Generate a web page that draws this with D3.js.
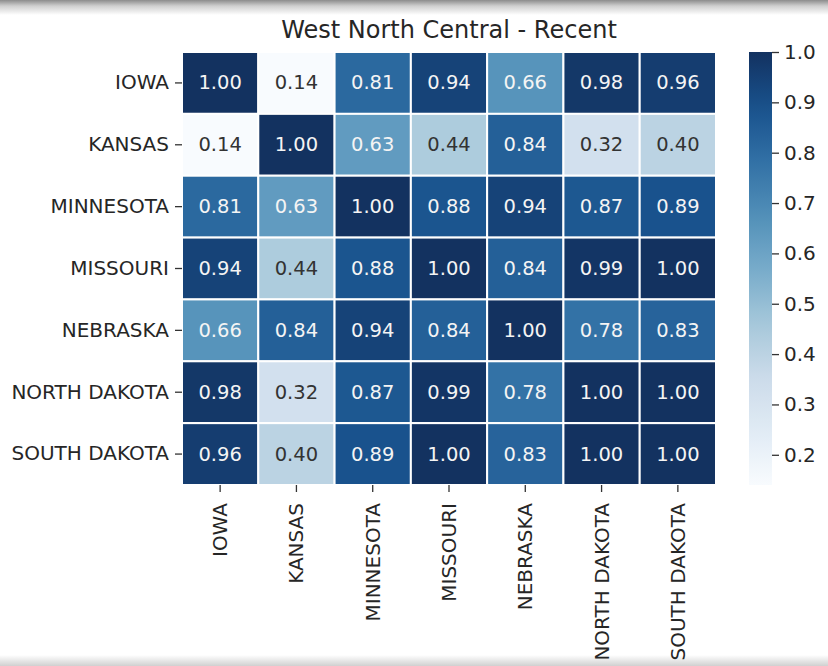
<!DOCTYPE html>
<html><head><meta charset="utf-8">
<script src="https://cdn.jsdelivr.net/npm/d3@7"></script>
<style>
html,body{margin:0;padding:0;background:#fff;}
svg{display:block;font-family:"DejaVu Sans",sans-serif;}
</style></head>
<body>
<script>
const states = ["IOWA","KANSAS","MINNESOTA","MISSOURI","NEBRASKA","NORTH DAKOTA","SOUTH DAKOTA"];
const rowIOWA        = [1.00,0.14,0.81,0.94,0.66,0.98,0.96];
const rowKANSAS      = [0.14,1.00,0.63,0.44,0.84,0.32,0.40];
const rowMINNESOTA   = [0.81,0.63,1.00,0.88,0.94,0.87,0.89];
const rowMISSOURI    = [0.94,0.44,0.88,1.00,0.84,0.99,1.00];
const rowNEBRASKA    = [0.66,0.84,0.94,0.84,1.00,0.78,0.83];
const rowNORTHDAKOTA = [0.98,0.32,0.87,0.99,0.78,1.00,1.00];
const rowSOUTHDAKOTA = [0.96,0.40,0.89,1.00,0.83,1.00,1.00];
const matrix = [rowIOWA,rowKANSAS,rowMINNESOTA,rowMISSOURI,rowNEBRASKA,rowNORTHDAKOTA,rowSOUTHDAKOTA];
const cbarTicks = [0.2,0.3,0.4,0.5,0.6,0.7,0.8,0.9,1.0];
const chartTitle = "West North Central - Recent";

(function(){
const W = 828, H = 666;
const mLeft = 182, mRight = 716, mTop = 52, mBottom = 485;
const vmin = d3.min(matrix.flat()), vmax = d3.max(matrix.flat());

const bluesStops = ["#f7fbff","#deebf7","#c6dbef","#9ecae1","#6baed6","#4292c6","#2171b5","#08519c","#08306b"];
const bluesRaw = d3.piecewise(d3.interpolateRgb, bluesStops);
const blues = t => { const h = d3.hsl(bluesRaw(t)); h.s *= 0.78; return h.formatHex(); };
const color = d3.scaleSequential(blues).domain([vmin, vmax]);

const svg = d3.select("body").append("svg").attr("width", W).attr("height", H);
const defs = svg.append("defs");
const gTop = defs.append("linearGradient").attr("id","gtop").attr("x1",0).attr("y1",0).attr("x2",0).attr("y2",1);
gTop.append("stop").attr("offset","0%").attr("stop-color","#8c8c8c");
gTop.append("stop").attr("offset","40%").attr("stop-color","#cfcfcf");
gTop.append("stop").attr("offset","100%").attr("stop-color","#ffffff");
const gBot = defs.append("linearGradient").attr("id","gbot").attr("x1",0).attr("y1",0).attr("x2",0).attr("y2",1);
gBot.append("stop").attr("offset","0%").attr("stop-color","#ffffff");
gBot.append("stop").attr("offset","100%").attr("stop-color","#d0d0d0");
svg.append("rect").attr("x",0).attr("y",0).attr("width",W).attr("height",15).attr("fill","url(#gtop)");
svg.append("rect").attr("x",0).attr("y",655).attr("width",W).attr("height",11).attr("fill","url(#gbot)");

const x = d3.scaleBand().domain(states).range([mLeft, mRight]);
const y = d3.scaleBand().domain(states).range([mTop, mBottom]);

const cells = [];
matrix.forEach((row, i) => row.forEach((v, j) => cells.push({r: states[i], c: states[j], v})));

svg.append("g").selectAll("rect").data(cells).join("rect")
  .attr("x", d => x(d.c)).attr("y", d => y(d.r))
  .attr("width", x.bandwidth()).attr("height", y.bandwidth())
  .attr("fill", d => color(d.v))
  .attr("stroke", "#fff").attr("stroke-width", 2);

function lum(c) {
  const rgb = d3.rgb(c);
  const f = u => { u /= 255; return u <= 0.03928 ? u / 12.92 : Math.pow((u + 0.055) / 1.055, 2.4); };
  return 0.2126 * f(rgb.r) + 0.7152 * f(rgb.g) + 0.0722 * f(rgb.b);
}
svg.append("g").selectAll("text").data(cells).join("text")
  .attr("x", d => x(d.c) + x.bandwidth() / 2)
  .attr("y", d => y(d.r) + y.bandwidth() / 2)
  .attr("text-anchor", "middle").attr("dominant-baseline", "central")
  .attr("font-size", 19.5)
  .attr("fill", d => lum(bluesRaw((d.v - vmin) / (vmax - vmin))) > 0.408 ? "#333333" : "#f4f4f4")
  .text(d => d.v.toFixed(2));

const yAxis = svg.append("g").attr("transform", `translate(${mLeft},0)`)
  .call(d3.axisLeft(y).tickSize(7).tickPadding(6));
yAxis.select(".domain").remove();
yAxis.selectAll("text").attr("font-size", 20).attr("fill", "#262626").attr("font-family", "DejaVu Sans");
yAxis.selectAll("line").attr("stroke", "#333").attr("stroke-width", 1.3);

const xAxis = svg.append("g").attr("transform", `translate(0,${mBottom})`)
  .call(d3.axisBottom(x).tickSize(7).tickPadding(6));
xAxis.select(".domain").remove();
xAxis.selectAll("line").attr("stroke", "#333").attr("stroke-width", 1.3);
xAxis.selectAll("text").attr("font-size", 20).attr("fill", "#262626").attr("font-family", "DejaVu Sans")
  .attr("transform", "rotate(-90)")
  .attr("text-anchor", "end").attr("dy", "0.35em")
  .attr("x", -18).attr("y", 0);

svg.append("text").attr("x", (mLeft + mRight) / 2).attr("y", 38)
  .attr("text-anchor", "middle").attr("font-size", 24).attr("fill", "#262626")
  .text(chartTitle);

const cbX = 749, cbW = 23;
const cy = d3.scaleLinear().domain([vmin, vmax]).range([mBottom, mTop]);
const gCb = defs.append("linearGradient").attr("id","gcb").attr("x1",0).attr("y1",1).attr("x2",0).attr("y2",0);
d3.range(0, 1.0001, 0.05).forEach(t => {
  gCb.append("stop").attr("offset", (t * 100) + "%").attr("stop-color", blues(t));
});
svg.append("rect").attr("x", cbX).attr("y", mTop).attr("width", cbW).attr("height", mBottom - mTop)
  .attr("fill", "url(#gcb)");
const cAxis = svg.append("g").attr("transform", `translate(${cbX + cbW},0)`)
  .call(d3.axisRight(cy).tickValues(cbarTicks).tickFormat(d3.format(".1f")).tickSize(7).tickPadding(5));
cAxis.select(".domain").remove();
cAxis.selectAll("line").attr("stroke", "#333").attr("stroke-width", 1.3);
cAxis.selectAll("text").attr("font-size", 20).attr("fill", "#262626").attr("font-family", "DejaVu Sans");
})();
</script>
</body></html>
